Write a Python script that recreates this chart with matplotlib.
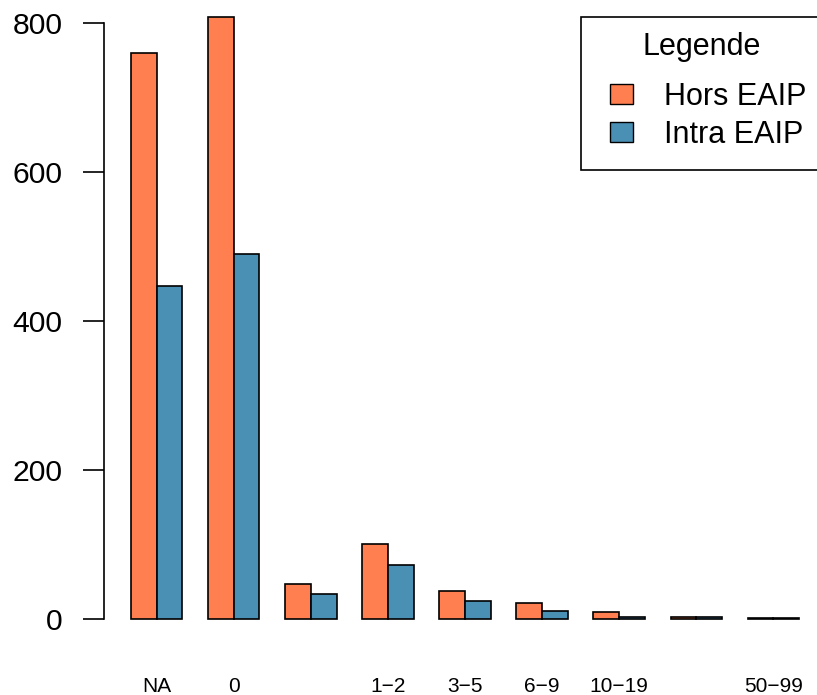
import numpy as np
import matplotlib
matplotlib.use("Agg")
import matplotlib.pyplot as plt
from matplotlib.patches import Rectangle

plt.rcParams['font.family'] = ['Liberation Sans', 'DejaVu Sans']

# classes (certaines étiquettes masquées comme dans R)
categories = ["NA", "0", "", "1−2", "3−5", "6−9", "10−19", "", "50−99"]
hors_eaip = [759, 808, 46, 100, 37, 21, 9, 3, 1]
intra_eaip = [446, 489, 33, 72, 24, 11, 3, 3, 1]
yticks = [0, 200, 400, 600, 800]

col_hors = '#FF7F50'
col_intra = '#4A90B4'

W, H = 817, 695
fig = plt.figure(figsize=(W / 100, H / 100), dpi=100)
# zone de tracé façon R (dépasse un peu du cadre)
left, right, bottom, top = 104.3, 825.7, 642.8, -7.3
ax = fig.add_axes([left / W, 1 - bottom / H, (right - left) / W, (bottom - top) / H])

centers = np.arange(len(categories)) * 3 + 2
ax.bar(centers - 0.5, hors_eaip, width=1, color=col_hors, edgecolor='black', linewidth=1.2)
ax.bar(centers + 0.5, intra_eaip, width=1, color=col_intra, edgecolor='black', linewidth=1.2)

ax.set_xlim(-0.04, 28.04)
ax.set_ylim(-32.3, 840.3)

for s in ['top', 'right', 'bottom']:
    ax.spines[s].set_visible(False)
ax.spines['left'].set_bounds(0, 800)
ax.spines['left'].set_linewidth(1.2)

ax.set_yticks(yticks)
ax.set_yticklabels([str(v) for v in yticks], fontsize=21.7)
ax.tick_params(axis='y', length=15, width=1.2, pad=15, direction='out')

ax.set_xticks(centers)
ax.set_xticklabels(categories, fontsize=15)
ax.tick_params(axis='x', length=0, pad=24.5)

# légende dessinée à la main (style R)
def fx(px):
    return px / W

def fy(py):
    return 1 - py / H

fig.patches.append(Rectangle((fx(581), fy(170)), fx(830) - fx(581), fy(17) - fy(170),
                             transform=fig.transFigure, facecolor='white',
                             edgecolor='black', linewidth=1.2, zorder=5))
fig.text(fx(702), fy(55), 'Legende', ha='center', va='baseline', fontsize=22, zorder=6)
for i, (lab, col) in enumerate([('Hors EAIP', col_hors), ('Intra EAIP', col_intra)]):
    yc = 94 + i * 38
    fig.patches.append(Rectangle((fx(610), fy(yc + 10)), fx(633) - fx(610), fy(yc - 10) - fy(yc + 10),
                                 transform=fig.transFigure, facecolor=col,
                                 edgecolor='black', linewidth=1.0, zorder=6))
    fig.text(fx(664), fy(yc + 11), lab, ha='left', va='baseline', fontsize=22, zorder=6)

fig.savefig('out.png', dpi=100)
